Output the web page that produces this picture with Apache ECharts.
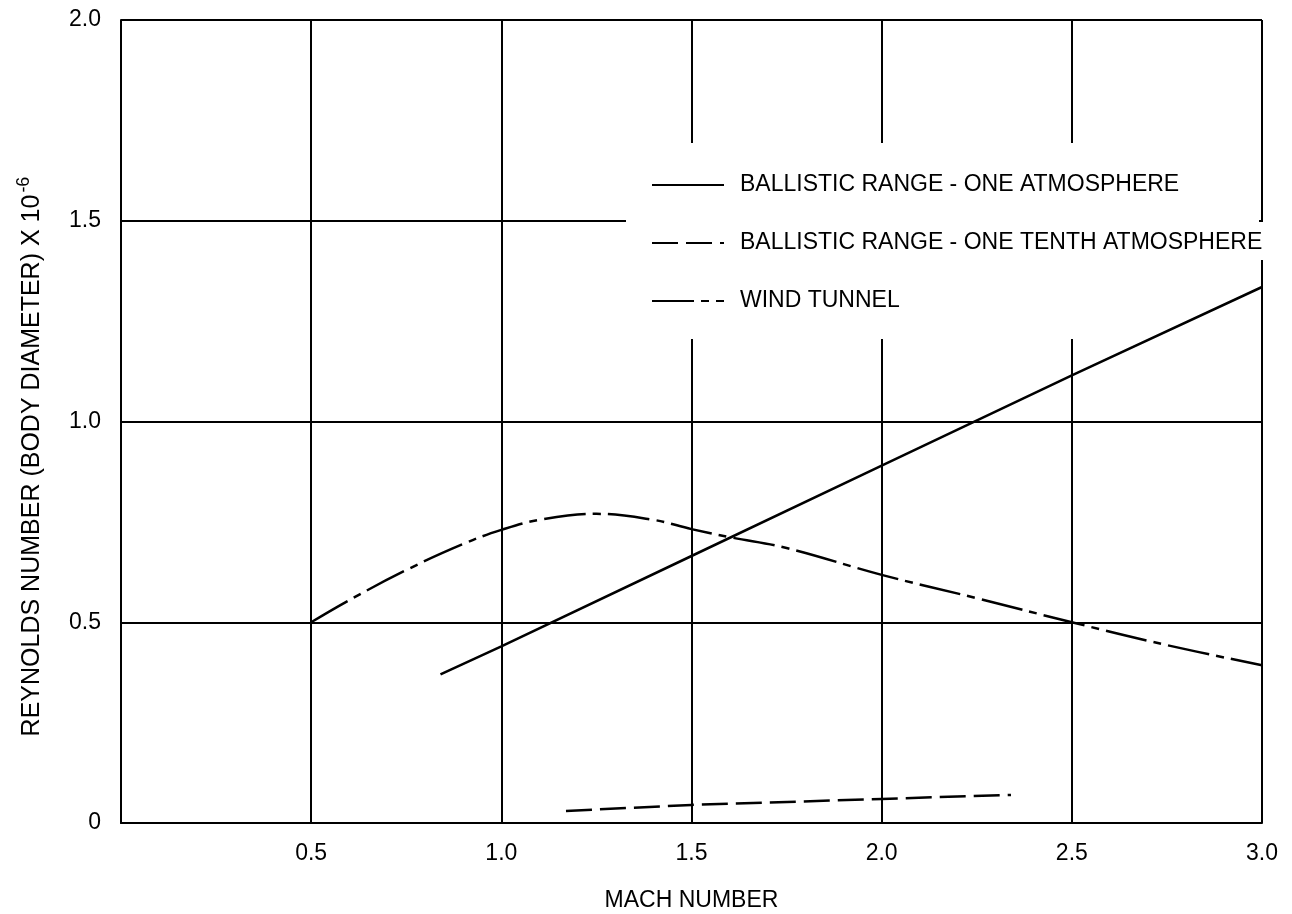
<!DOCTYPE html>
<html>
<head>
<meta charset="utf-8">
<script src="https://cdn.jsdelivr.net/npm/echarts@6/dist/echarts.min.js"></script>
<style>
  html, body { margin: 0; padding: 0; background: #fff; }
  #chart { width: 1292px; height: 914px; }
</style>
</head>
<body>
<div id="chart"></div>
<script>
// values (Mach number -> Reynolds number x 10^-6)
const machOneAtm = [0.84, 1.0, 1.5, 2.0, 2.5, 3.0]
const reOneAtm = [0.37, 0.44, 0.665, 0.89, 1.115, 1.335]

const machTenthAtm = [1.17, 1.5, 2.0, 2.34]
const reTenthAtm = [0.03, 0.045, 0.06, 0.07]

const machWindTunnel = [0.5, 0.6, 0.75, 0.9, 1.0, 1.1, 1.25, 1.4, 1.5, 1.6, 1.75, 2.0, 2.25, 2.5, 2.75, 3.0]
const reWindTunnel = [0.5, 0.555, 0.63, 0.695, 0.73, 0.755, 0.77, 0.755, 0.732, 0.712, 0.685, 0.618, 0.56, 0.5, 0.443, 0.393]

const seriesNames = [
  'BALLISTIC RANGE - ONE ATMOSPHERE',
  'BALLISTIC RANGE - ONE TENTH ATMOSPHERE',
  'WIND TUNNEL'
]

const font = 'Liberation Sans'
const pairs = (xs, ys) => xs.map((x, i) => [x, ys[i]])

const chart = echarts.init(document.getElementById('chart'))

chart.setOption({
  animation: false,
  backgroundColor: '#fff',
  textStyle: { fontFamily: font, color: '#000' },
  grid: { left: 121, right: 30, top: 20, bottom: 91, outerBoundsMode: 'none', containLabel: false },
  // white box behind the legend, it cuts the grid lines like on the original
  graphic: [
    { type: 'rect', z: 1, shape: { x: 626, y: 143, width: 633, height: 196 }, style: { fill: '#fff' } },
    { type: 'rect', z: 1, shape: { x: 1255, y: 222, width: 12, height: 38 }, style: { fill: '#fff' } }
  ],
  legend: {
    orient: 'vertical',
    left: 646,
    top: 168,
    itemWidth: 72,
    itemHeight: 14,
    itemGap: 34,
    data: seriesNames,
    itemStyle: { opacity: 0 },
    textStyle: { fontFamily: font, fontSize: 23, color: '#000', lineHeight: 24, padding: [0, 0, 0, 11] }
  },
  xAxis: {
    type: 'value',
    min: 0,
    max: 3,
    interval: 0.5,
    name: 'MACH NUMBER',
    nameLocation: 'middle',
    nameGap: 66,
    nameTextStyle: { fontFamily: font, fontSize: 23, color: '#000' },
    axisLine: { show: true, lineStyle: { color: '#000', width: 2 } },
    axisTick: { show: false },
    axisLabel: {
      margin: 19,
      fontSize: 23,
      color: '#000',
      fontFamily: font,
      formatter: (v) => (v === 0 ? '' : v.toFixed(1))
    },
    splitLine: { show: true, lineStyle: { color: '#000', width: 2 } }
  },
  yAxis: {
    type: 'value',
    min: 0,
    max: 2,
    interval: 0.5,
    name: 'REYNOLDS NUMBER (BODY DIAMETER) X 10{sup|-6}',
    nameLocation: 'middle',
    nameGap: 72,
    nameTextStyle: {
      fontFamily: font,
      fontSize: 25,
      color: '#000',
      padding: [0, 70, 0, 0],
      rich: {
        sup: { fontFamily: font, fontSize: 18, color: '#000', padding: [0, 0, 16, 2] }
      }
    },
    axisLine: { show: true, lineStyle: { color: '#000', width: 2 } },
    axisTick: { show: false },
    axisLabel: {
      margin: 20,
      fontSize: 23,
      color: '#000',
      fontFamily: font,
      formatter: (v) => (v === 0 ? '0' : v.toFixed(1))
    },
    splitLine: { show: true, lineStyle: { color: '#000', width: 2 } }
  },
  series: [
    {
      name: seriesNames[0],
      type: 'line',
      symbol: 'none',
      z: 3,
      data: pairs(machOneAtm, reOneAtm),
      lineStyle: { color: '#000', width: 2.5, type: 'solid' }
    },
    {
      name: seriesNames[1],
      type: 'line',
      symbol: 'none',
      z: 3,
      data: pairs(machTenthAtm, reTenthAtm),
      lineStyle: { color: '#000', width: 2.5, type: [26, 8] }
    },
    {
      name: seriesNames[2],
      type: 'line',
      symbol: 'none',
      smooth: 0.4,
      z: 3,
      data: pairs(machWindTunnel, reWindTunnel),
      lineStyle: { color: '#000', width: 2.5, type: [42, 7, 8, 7] }
    }
  ]
})
</script>
</body>
</html>
